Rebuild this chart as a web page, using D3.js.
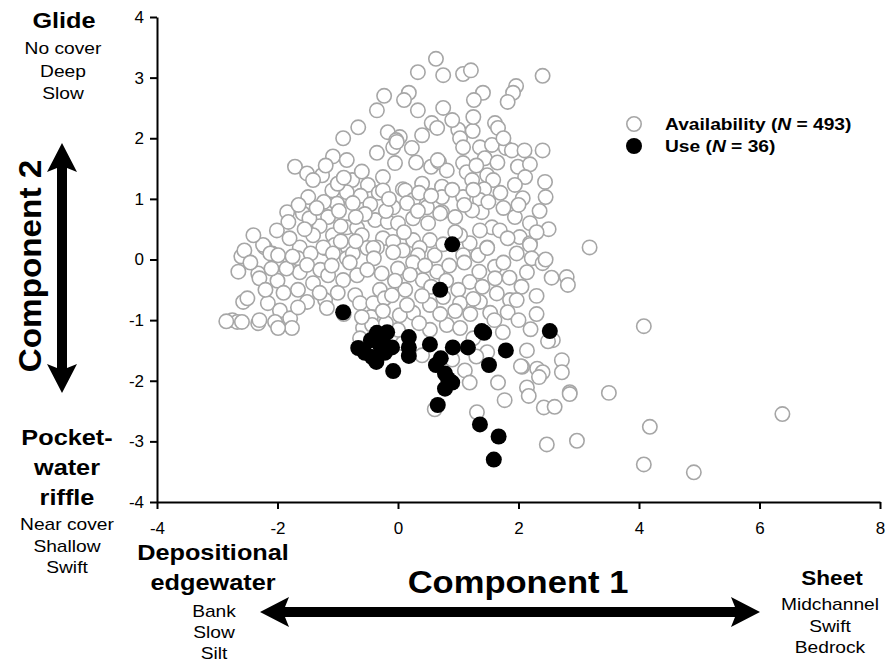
<!DOCTYPE html>
<html>
<head>
<meta charset="utf-8">
<script src="https://cdn.jsdelivr.net/npm/d3@7"></script>
<style>
  body { margin: 0; background: #fff; }
  text { font-family: "Liberation Sans", Arial, sans-serif; fill: #000; }
</style>
</head>
<body>
<script>
var width = 894;
var height = 662;

// principal component scores [component 1, component 2]
var availability = [
  [0.63,3.31],[0.33,3.09],[0.75,3.04],[1.08,3.06],[1.21,3.12],[2.40,3.03],
  [-0.23,2.70],[0.18,2.75],[0.10,2.63],[1.41,2.75],[1.26,2.63],[1.96,2.86],[1.91,2.75],[1.82,2.60],
  [0.33,2.46],[0.75,2.50],[-0.35,2.46],
  [-0.66,2.18],[-0.91,2.00],[-0.17,2.10],[0.56,2.25],[0.65,2.17],[1.00,2.14],[1.24,2.12],[1.61,2.25],[1.66,2.17],[1.03,2.00],[0.03,2.02],
  [-0.03,1.97],[-0.08,1.85],[0.23,1.84],[-0.02,1.94],[-0.35,1.76],[-1.08,1.70],[-0.85,1.64],[-0.05,1.59],[1.08,1.85],[1.36,1.85],
  [1.56,1.89],[1.79,1.84],[1.89,1.80],[1.44,1.67],[0.55,1.53],[0.68,1.61],[0.81,1.47],[1.08,1.59],[1.14,1.44],[1.99,1.53],[2.19,1.57],
  [-1.71,1.53],[0.66,1.64],
  [-1.51,1.42],[-1.26,1.39],[-1.41,1.31],[-0.76,1.31],[-0.50,1.23],[-0.25,1.36],[0.08,1.16],[0.73,1.20],[-1.09,1.14],[-0.85,1.11],
  [-0.32,1.10],[-1.49,1.03],[1.23,1.31],[1.48,1.39],[1.58,1.31],[2.11,1.36],[2.44,1.28],[1.94,1.23],[1.43,1.16],[-0.25,1.14],
  [0.12,1.14],[2.07,1.01],[2.45,1.03],[0.73,1.03],[1.08,1.03],[1.36,0.98],[0.25,0.98],[-0.62,1.05],[0.40,1.25],
  [-1.01,0.92],[-0.75,0.93],[-0.46,0.91],[-0.08,0.86],[0.15,0.93],[0.48,0.86],[0.73,0.78],[-1.84,0.78],[-1.58,0.76],[-1.16,0.70],
  [-0.85,0.53],[-0.68,0.52],[-0.38,0.65],[-0.17,0.62],[0.00,0.60],[0.25,0.68],[0.50,0.60],[-1.82,0.62],[1.39,0.78],[1.23,0.81],
  [0.70,0.76],[1.56,0.53],[1.69,0.48],[1.94,0.70],[2.19,0.60],[-1.30,0.55],[-1.47,0.68],[-0.98,0.80],[-0.20,0.80],[0.95,0.70],
  [1.10,0.90],[-0.55,0.75],[-1.65,0.90],[-1.23,0.95],[0.33,0.80],
  [-2.01,0.48],[-1.41,0.40],[-1.08,0.40],[-0.60,0.40],[-0.25,0.35],[-0.08,0.29],[0.25,0.32],[0.53,0.32],[-2.21,0.20],[-2.09,0.10],
  [-1.63,0.20],[-1.21,0.19],[-1.05,0.24],[-0.83,0.19],[-0.51,0.19],[-0.35,0.20],[0.08,0.15],[0.36,0.19],[2.02,0.37],[2.19,0.27],
  [1.82,0.35],[1.36,0.48],[1.48,0.20],[1.19,0.27],[1.03,0.40],[3.18,0.20],[-2.24,0.24],[-2.12,0.10],[-1.99,0.07],[-1.66,0.02],
  [-1.24,0.20],[-1.08,0.10],[-0.85,0.02],[-0.75,0.10],[-0.41,0.19],[-0.08,0.12],[0.33,0.07],[0.61,0.07],[1.08,0.07],[1.33,0.07],
  [1.48,0.19],[1.97,0.10],[2.19,0.24],[2.22,0.02],[-1.80,0.35],[-2.60,0.05],[-2.55,0.15],[-0.95,0.30],[0.75,0.25],[-0.40,0.02],
  [-1.45,0.10],[0.95,0.45],[-0.70,0.30],[0.10,0.45],
  [-2.32,-0.23],[-2.30,-0.31],[-1.63,-0.21],[-1.51,-0.09],[-1.41,-0.39],[-1.29,-0.17],[-1.16,-0.26],[-0.91,-0.34],[-0.68,-0.26],
  [-0.51,-0.17],[-0.27,-0.23],[2.40,-0.06],[2.14,-0.21],[1.61,-0.12],[1.61,-0.31],[1.19,-0.37],[0.41,-0.34],[2.80,-0.29],[2.82,-0.42],
  [-1.66,-0.50],[-0.30,-0.50],[0.12,-0.50],[1.00,-0.50],[-2.00,-0.35],[-1.85,-0.15],[0.00,-0.15],[0.25,-0.05],[0.65,-0.20],[0.85,-0.10],
  [1.35,-0.20],[1.85,-0.30],[-0.05,-0.35],[0.55,-0.45],[-0.80,-0.05],[2.05,-0.45],[1.10,-0.05],[-2.65,-0.20],
  [-1.51,-0.70],[-1.21,-0.67],[-0.71,-0.59],[-0.63,-0.72],[-0.41,-0.72],[-0.22,-0.64],[-2.57,-0.70],[-2.50,-0.64],[-2.16,-0.72],
  [-1.96,-0.84],[-1.79,-0.97],[-1.66,-0.79],[-1.18,-0.80],[-0.10,-0.59],[1.03,-0.72],[1.36,-0.70],[1.64,-0.56],[1.86,-0.67],
  [1.97,-0.67],[1.53,-0.88],[1.82,-0.87],[0.53,-0.75],[0.25,-0.88],[0.03,-0.92],[-1.00,-0.55],[-0.90,-0.90],[0.75,-0.62],[1.20,-0.90],
  [-0.45,-0.95],[0.40,-0.60],
  [-2.75,-1.00],[-2.67,-1.03],[-2.59,-1.03],[-2.32,-1.05],[-2.04,-1.03],[-1.76,-1.13],[-1.99,-1.13],[-0.58,-1.13],[-0.63,-1.30],
  [0.81,-1.08],[1.03,-1.13],[1.74,-1.20],[2.14,-1.50],[1.48,-1.53],[2.57,-1.33],[0.08,-1.38],[0.53,-1.16],[0.00,-1.16],[-0.43,-1.08],
  [-2.30,-1.00],[-2.85,-1.02],[4.08,-1.10],[2.49,-1.35],[0.35,-1.05],[1.25,-1.30],[-0.20,-1.05],
  [0.40,-1.58],[2.06,-1.77],[2.31,-1.80],[2.40,-1.86],[2.72,-1.66],[2.72,-1.86],[1.11,-1.83],[1.19,-2.03],[1.66,-2.03],[2.14,-2.11],
  [2.04,-1.76],[2.34,-1.94],[2.85,-2.19],[2.85,-2.22],[3.50,-2.20],[1.77,-2.32],[2.17,-2.25],[2.42,-2.44],[2.60,-2.43],[1.31,-2.52],
  [0.61,-2.47],[6.38,-2.55],[4.18,-2.76],[2.97,-2.99],[2.47,-3.05],[4.08,-3.38],[4.91,-3.51],[0.90,-1.65],[1.30,-1.60],
  [-1.35,0.85],[-0.70,0.70],[-1.00,1.25],[-0.60,1.45],[-1.20,1.55],[-0.90,1.35],[-0.15,1.00],[0.35,1.10],[0.55,1.05],[0.90,1.15],
  [1.25,1.15],[1.70,1.10],[1.75,0.85],[2.00,0.90],[1.50,0.95],
  [0.20,-0.25],[0.45,-0.10],[0.80,-0.35],[1.40,-0.45],[1.75,-0.05],[2.30,-0.60],[2.30,-0.90],[2.00,-1.00],[1.60,-1.00],[0.70,-0.90],
  [0.95,-0.85],[0.15,-0.75],[-0.25,-0.85],[-0.60,-0.95],[1.25,-0.65],[2.20,-1.15],
  [-2.45,-0.05],[-2.20,-0.50],[-1.90,-0.55],[-1.75,0.05],[-1.30,-0.55],[-1.10,-0.10],[-0.95,0.55],[-2.40,0.40],[-1.55,0.50],[-2.10,-0.15],
  [0.30,1.60],[0.40,2.05],[1.30,1.55],[1.65,1.60],[1.25,2.35],[0.90,2.30],[1.75,2.00],[2.40,1.80],[2.10,1.80],
  [2.35,0.80],[2.50,0.50],[2.30,0.45],[2.45,0.00],[2.55,-0.30]
];

var use = [
  [0.90,0.25],[0.70,-0.50],[-0.91,-0.87],[2.52,-1.18],[1.39,-1.18],[-0.35,-1.21],[-0.25,-1.28],[-0.30,-1.41],[-0.22,-1.54],
  [-0.43,-1.61],[-0.66,-1.46],[-0.55,-1.54],[-0.08,-1.84],[0.18,-1.28],[0.18,-1.45],[0.18,-1.59],[0.53,-1.40],[0.91,-1.45],
  [1.16,-1.45],[1.79,-1.50],[1.51,-1.74],[0.71,-1.63],[0.63,-1.74],[0.78,-1.88],[0.90,-2.03],[0.78,-2.13],[0.66,-2.40],
  [1.36,-2.72],[1.67,-2.92],[1.59,-3.30],[-0.45,-1.33],[-0.18,-1.20],[-0.36,-1.69],[0.83,-1.97],[1.43,-1.21],[-0.10,-1.45]
];

var xTicks = [-4, -2, 0, 2, 4, 6, 8];
var yTicks = [-4, -3, -2, -1, 0, 1, 2, 3, 4];
var legendLabels = [["Availability (", "N", " = 493)"], ["Use (", "N", " = 36)"]];

var margin = {top: 17, left: 157, right: 14, bottom: 160};
var w = width - margin.left - margin.right;
var h = height - margin.top - margin.bottom;

var svg = d3.select("body").append("svg")
    .attr("width", width)
    .attr("height", height)

var x = d3.scaleLinear().domain([-4, 8]).range([0, w]);
var y = d3.scaleLinear().domain([-4, 4]).range([h, 0]);

var plot = svg.append("g")
    .attr("transform", "translate(" + margin.left + "," + margin.top + ")")

// points
plot.append("g").selectAll("circle")
    .data(availability)
    .enter().append("circle")
    .attr("cx", function (d) { return x(d[0]); })
    .attr("cy", function (d) { return y(d[1]); })
    .attr("r", 7.2)
    .style("fill", "#fff")
    .style("stroke", "#a6a6a6")
    .style("stroke-width", 1.6)

plot.append("g").selectAll("circle")
    .data(use)
    .enter().append("circle")
    .attr("cx", function (d) { return x(d[0]); })
    .attr("cy", function (d) { return y(d[1]); })
    .attr("r", 8)
    .style("fill", "#000")

// axes (plain hyphen minus like the original)
var xAxis = plot.append("g")
    .attr("transform", "translate(0," + h + ")")
    .call(d3.axisBottom(x).tickValues(xTicks).tickFormat(String).tickSize(7).tickPadding(13).tickSizeOuter(0))
var yAxis = plot.append("g")
    .call(d3.axisLeft(y).tickValues(yTicks).tickFormat(String).tickSize(7).tickPadding(6).tickSizeOuter(0))

;[xAxis, yAxis].forEach(function (a) {
    a.selectAll("path, line").style("stroke", "#000").style("stroke-width", 2)
    a.selectAll("text").style("font-size", "17px").style("font-family", "Liberation Sans, Arial, sans-serif")
})

// legend
var legend = svg.append("g").attr("transform", "translate(634,124)")
legendLabels.forEach(function (lab, i) {
    var g = legend.append("g").attr("transform", "translate(0," + (i * 22) + ")")
    g.append("circle").attr("r", i == 0 ? 7.2 : 8)
        .style("fill", i == 0 ? "#fff" : "#000")
        .style("stroke", i == 0 ? "#a6a6a6" : "none")
        .style("stroke-width", 1.6)
    var t = g.append("text").attr("transform", "translate(31,6) scale(1.2,1)")
        .style("font-size", "16px").style("font-weight", "bold")
    t.append("tspan").text(lab[0])
    t.append("tspan").style("font-style", "italic").text(lab[1])
    t.append("tspan").text(lab[2])
})

// annotations (stretched a little sideways like the original text boxes)
function note(txt, px, py, size, bold, sx) {
    svg.append("text")
        .attr("transform", "translate(" + px + "," + py + ") scale(" + sx + ",1)")
        .attr("text-anchor", "middle")
        .style("font-size", size + "px")
        .style("font-weight", bold ? "bold" : "normal")
        .text(txt)
}

note("Glide", 64, 28, 22, true, 1.15)
note("No cover", 63, 54, 16, false, 1.2)
note("Deep", 63, 77, 16, false, 1.2)
note("Slow", 63, 99, 16, false, 1.2)

note("Pocket-", 67, 445, 22, true, 1.15)
note("water", 67, 475, 22, true, 1.15)
note("riffle", 67, 505, 22, true, 1.15)
note("Near cover", 67, 530, 16, false, 1.2)
note("Shallow", 67, 552, 16, false, 1.2)
note("Swift", 67, 573, 16, false, 1.2)

note("Depositional", 213, 560, 22, true, 1.15)
note("edgewater", 213, 590, 22, true, 1.15)
note("Bank", 214, 617, 16, false, 1.2)
note("Slow", 214, 638, 16, false, 1.2)
note("Silt", 214, 659, 16, false, 1.2)

note("Component 1", 518, 593, 32, true, 1.08)

note("Sheet", 832, 585, 20.5, true, 1.1)
note("Midchannel", 830, 610, 16, false, 1.2)
note("Swift", 830, 632, 16, false, 1.2)
note("Bedrock", 830, 653, 16, false, 1.2)

svg.append("text")
    .attr("transform", "translate(41,266) rotate(-90) scale(1.04,1)")
    .attr("text-anchor", "middle")
    .style("font-size", "32px")
    .style("font-weight", "bold")
    .text("Component 2")

// double headed arrows
function arrow(x1, y1, x2, y2) {
    var len = Math.hypot(x2 - x1, y2 - y1);
    var ang = Math.atan2(y2 - y1, x2 - x1) * 180 / Math.PI;
    var hw = 5, hl = 29, hh = 15, notch = 4;
    var p = [[0, 0], [hl, -hh], [hl - notch, -hw], [len - hl + notch, -hw], [len - hl, -hh], [len, 0],
             [len - hl, hh], [len - hl + notch, hw], [hl - notch, hw], [hl, hh]];
    svg.append("path")
        .attr("transform", "translate(" + x1 + "," + y1 + ") rotate(" + ang + ")")
        .attr("d", "M" + p.join("L") + "Z")
        .style("fill", "#000")
}

arrow(62, 143, 62, 393)
arrow(260, 612, 760, 612)
</script>
</body>
</html>
